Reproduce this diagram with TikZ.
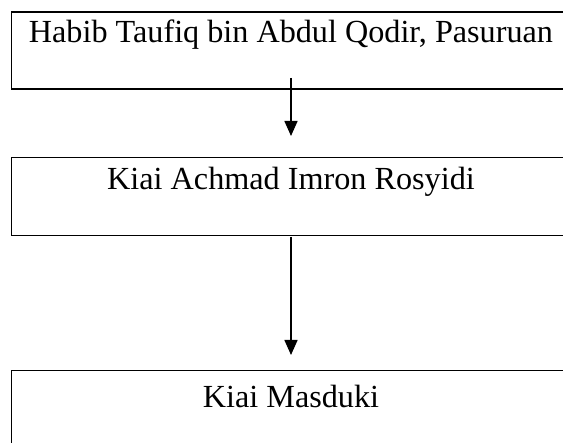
\documentclass[tikz,border=0pt]{standalone}
\usepackage{fontspec}
\setmainfont{Liberation Serif}
\usetikzlibrary{arrows.meta}
\tikzset{
  boxnode/.style={draw, line width=1.3pt, inner sep=0pt, outer sep=0pt, minimum width=559pt, anchor=north west},
  namenode/.style={anchor=base, inner sep=0pt, font=\fontsize{32.2pt}{36pt}\selectfont},
  conn/.style={line width=1.5pt, -{Triangle[width=13pt,length=15pt]}}
}
\begin{document}
\begin{tikzpicture}[x=1pt,y=-1pt]
\clip (0,0) rectangle (563,443);
\fill[white] (0,0) rectangle (563,443);
\node[boxnode, minimum height=77pt] (b1) at (11.5,12) {};
\node[boxnode, minimum height=78pt] (b2) at (11.5,157.3) {};
\node[boxnode, minimum height=90pt] (b3) at (11.5,370.7) {};
\node[namenode] (t1) at ([yshift=-30.8pt]b1.north) {Habib Taufiq bin Abdul Qodir, Pasuruan};
\node[namenode] (t2) at ([yshift=-32pt]b2.north) {Kiai Achmad Imron Rosyidi};
\node[namenode] (t3) at ([yshift=-37pt]b3.north) {Kiai Masduki};
\coordinate (a1s) at ([yshift=11pt]b1.south);
\coordinate (a1e) at ([yshift=21.3pt]b2.north);
\coordinate (a2s) at ([yshift=-1.7pt]b2.south);
\coordinate (a2e) at ([yshift=15.7pt]b3.north);
\draw[conn] (a1s) -- (a1e);
\draw[conn] (a2s) -- (a2e);
\end{tikzpicture}
\end{document}
